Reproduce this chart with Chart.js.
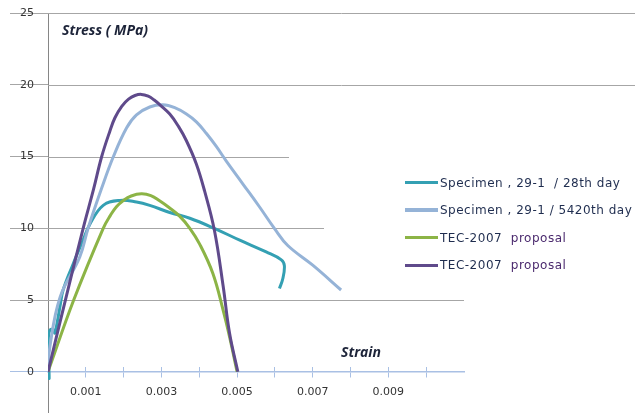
<!DOCTYPE html>
<html>
<head>
<meta charset="utf-8">
<script src="https://cdn.jsdelivr.net/npm/chart.js@4.4.1/dist/chart.umd.min.js"></script>
<style>
  html, body { margin: 0; padding: 0; background: #fff; }
  .wrap { position: relative; width: 635px; height: 413px; }
  #legend {
    position: absolute; left: 405px; top: 169px;
    font: 12px "DejaVu Sans"; letter-spacing: 0.5px; color: #1f2d4f;
  }
  .row { height: 27.5px; display: flex; align-items: center; white-space: pre; }
  .swatch { width: 33px; margin-right: 2px; }
  .prop { color: #4b2a6e; }
</style>
</head>
<body>
<div class="wrap">
  <canvas id="chart" width="635" height="413"></canvas>
  <div id="legend"></div>
</div>
<script>
// Series labels
const seriesNames = [
  "Specimen , 29-1  / 28th day",
  "Specimen , 29-1 / 5420th day",
  "TEC-2007  proposal",
  "TEC-2007  proposal",
];

// Specimen 29-1, 28th day
const day28Strain = [0, 0.00003, 0.00001, 0.00001, 0.00005, 0.00014, 0.00018, 0.00024, 0.00032, 0.0004,
  0.00067, 0.00093, 0.00111, 0.00146, 0.0019, 0.00234, 0.00269, 0.00322, 0.00375, 0.00441,
  0.00507, 0.00577, 0.00617, 0.00625, 0.00621, 0.00612];
const day28Stress = [0, -0.45, 1.2, 2.4, 2.9, 2.95, 2.7, 3.4, 4.6, 5.7,
  7.55, 9.2, 10.3, 11.6, 11.94, 11.83, 11.6, 11.1, 10.7, 9.98,
  9.17, 8.35, 7.8, 7.4, 6.5, 5.8];

// Specimen 29-1, 5420th day
const day5420Strain = [0, 0.00005, 0.00032, 0.00084, 0.00106, 0.00142, 0.00173, 0.00208, 0.00234, 0.00269,
  0.00304, 0.00335, 0.00366, 0.00393, 0.00419, 0.00445, 0.00471, 0.00515, 0.00559, 0.00599,
  0.00634, 0.007, 0.00775];
const day5420Stress = [0, 1.75, 5.2, 8.0, 10.0, 12.8, 15.0, 17.0, 17.9, 18.45,
  18.6, 18.4, 17.96, 17.4, 16.6, 15.7, 14.7, 13.1, 11.5, 9.98,
  8.8, 7.43, 5.7];

// TEC-2007 proposal (green)
const tecGreenStrain = [0, 0.00068, 0.00146, 0.00165, 0.00181, 0.002, 0.0022, 0.00247, 0.00272, 0.00296,
  0.0032, 0.00348, 0.00375, 0.00401, 0.00436, 0.00463, 0.0048, 0.005];
const tecGreenStress = [0, 5.0, 10.0, 10.9, 11.5, 11.95, 12.25, 12.4, 12.28, 11.9,
  11.45, 10.85, 10.0, 8.9, 6.85, 4.3, 2.45, 0];

// TEC-2007 proposal (purple)
const tecPurpleStrain = [0, 0.00046, 0.00093, 0.0012, 0.00142, 0.00164, 0.00177, 0.00195, 0.00213, 0.0023,
  0.00247, 0.00265, 0.0028, 0.00296, 0.00322, 0.00345, 0.00366, 0.00392, 0.00414, 0.0044,
  0.00463, 0.0048, 0.00502];
const tecPurpleStress = [0, 5.0, 10.0, 12.67, 15.0, 16.8, 17.7, 18.5, 19.0, 19.25,
  19.33, 19.2, 18.95, 18.6, 17.96, 17.1, 16.1, 14.5, 12.6, 9.86,
  6.0, 2.7, 0];

// Axes
const yTicks = [0, 5, 10, 15, 20, 25];
const xTicks = [0.001, 0.002, 0.003, 0.004, 0.005, 0.006, 0.007, 0.008, 0.009, 0.01];
const xTickLabels = ["0.001", "0.003", "0.005", "0.007", "0.009"];

const colors = ["#34a0b3", "#95b3d7", "#8cb446", "#5f4a8b"];
const GRID = "#a6a6a6";
const AXIS_BLUE = "#a9c0e4";

// right end (px) of each horizontal gridline, the legend box cuts some of them
const gridEnds = { 5: 464, 10: 324, 15: 289, 20: 635, 25: 635 };

function toPoints(xs, ys) {
  return xs.map((x, i) => ({ x: x, y: ys[i] }));
}

const datasets = [
  toPoints(day28Strain, day28Stress),
  toPoints(day5420Strain, day5420Stress),
  toPoints(tecGreenStrain, tecGreenStress),
  toPoints(tecPurpleStrain, tecPurpleStress),
].map((data, i) => ({
  label: seriesNames[i],
  data: data,
  borderColor: colors[i],
  backgroundColor: colors[i],
  borderWidth: 3,
  pointRadius: 0,
  showLine: true,
  tension: 0.4,
  order: 3 - i,
}));

const gridPlugin = {
  id: "hgrid",
  beforeDatasetsDraw(chart) {
    const ctx = chart.ctx;
    const y = chart.scales.y;
    ctx.save();
    ctx.strokeStyle = GRID;
    ctx.lineWidth = 1;
    yTicks.forEach((v) => {
      if (!gridEnds[v]) return;
      const py = Math.round(y.getPixelForValue(v)) + 0.5;
      ctx.beginPath();
      ctx.moveTo(chart.chartArea.left, py);
      ctx.lineTo(gridEnds[v], py);
      ctx.stroke();
    });
    ctx.restore();
  },
};

const titlePlugin = {
  id: "titles",
  afterDraw(chart) {
    const ctx = chart.ctx;
    ctx.save();
    ctx.fillStyle = "#1c2338";
    ctx.font = "italic bold 14px 'Open Sans'";
    ctx.textBaseline = "middle";
    ctx.fillText("Stress ( MPa)", 62, 31);
    ctx.fillText("Strain", 341, 353);
    ctx.restore();
  },
};

function fixedTicks(values) {
  return (scale) => {
    scale.ticks = values.map((v) => ({ value: v }));
  };
}

new Chart(document.getElementById("chart"), {
  type: "scatter",
  data: { datasets: datasets },
  plugins: [gridPlugin, titlePlugin],
  options: {
    responsive: false,
    animation: false,
    layout: { padding: { left: 0, top: 13, right: 171, bottom: 0 } },
    plugins: { legend: { display: false }, tooltip: { enabled: false } },
    scales: {
      x: {
        type: "linear",
        position: { y: 0 },
        min: 0,
        max: 0.011,
        afterBuildTicks: fixedTicks(xTicks),
        afterFit: (scale) => { scale.height = 0; },
        border: { display: true, color: AXIS_BLUE, width: 1.5 },
        grid: { drawOnChartArea: false, drawTicks: true, tickLength: 5, color: AXIS_BLUE },
        ticks: {
          autoSkip: false,
          maxRotation: 0,
          padding: 9,
          color: "#333",
          font: { family: "DejaVu Sans", size: 11 },
          callback: (v) => {
            const s = Number(v).toFixed(3);
            return xTickLabels.includes(s) ? s : "";
          },
        },
      },
      x2: {
        type: "linear",
        axis: "x",
        position: { y: 0 },
        min: 0,
        max: 0.011,
        afterBuildTicks: fixedTicks(xTicks),
        afterFit: (scale) => { scale.height = 0; },
        border: { display: false },
        grid: { drawOnChartArea: false, drawTicks: true, tickLength: -5, color: AXIS_BLUE },
        ticks: { display: false },
      },
      y: {
        type: "linear",
        position: "left",
        min: -2.87,
        max: 25,
        afterBuildTicks: fixedTicks(yTicks),
        afterFit: (scale) => { scale.width = 48; },
        border: { display: true, color: "#868686", width: 1 },
        grid: {
          drawOnChartArea: false,
          drawTicks: true,
          tickLength: 38,
          color: (c) => (c.tick && c.tick.value === 0 ? AXIS_BLUE : GRID),
        },
        ticks: {
          padding: -24,
          color: "#333",
          font: { family: "DejaVu Sans", size: 11 },
        },
      },
    },
  },
});

// HTML legend built from the datasets
const legend = document.getElementById("legend");
datasets.forEach((ds) => {
  const row = document.createElement("div");
  row.className = "row";
  const sw = document.createElement("span");
  sw.className = "swatch";
  sw.style.background = ds.borderColor;
  sw.style.height = ds.borderColor === colors[1] ? "4px" : "3px";
  row.appendChild(sw);
  const parts = ds.label.split("proposal");
  row.appendChild(document.createTextNode(parts[0]));
  if (parts.length > 1) {
    const p = document.createElement("span");
    p.className = "prop";
    p.textContent = "proposal";
    row.appendChild(p);
  }
  legend.appendChild(row);
});
</script>
</body>
</html>
